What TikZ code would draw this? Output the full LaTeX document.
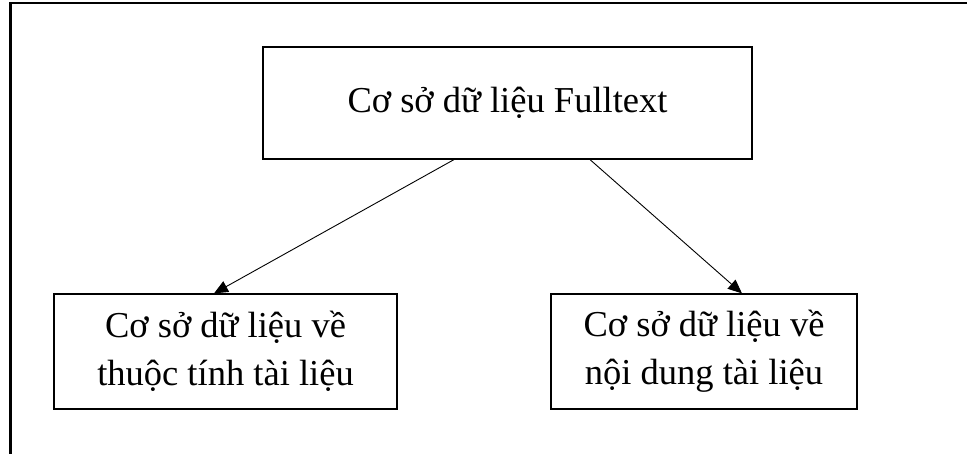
\documentclass[tikz,border=0pt]{standalone}
\usepackage{fontspec}
\setmainfont{Liberation Serif}
\usetikzlibrary{arrows.meta}

\tikzset{
  khoi/.style={draw, line width=1.2pt, align=center, inner sep=0pt,
    font=\fontsize{36.5}{48}\selectfont},
}

\begin{document}
\begin{tikzpicture}[x=1pt, y=-1pt, ->, >={Triangle[length=14pt, width=12pt]}]
      \useasboundingbox (0, 0) rectangle (967, 454);
      % khung ngoai
      \draw[line width=2.5pt, -] (10.3, 454) -- (10.3, 3) -- (967, 3);

      \node[khoi, minimum width=489pt, minimum height=112pt] (fulltext) at (507.5, 103) {Cơ sở dữ liệu Fulltext};
      \node[khoi, minimum width=343pt, minimum height=115pt] (thuoctinh) at (225.5, 351.5) {Cơ sở dữ liệu về\\thuộc tính tài liệu};
      \node[khoi, minimum width=306pt, minimum height=115pt] (noidung) at (704, 351.5) {Cơ sở dữ liệu về\\nội dung tài liệu};

      \draw[line width=0.9pt] ([xshift=-53.5pt]fulltext.south) -- ([xshift=-11.5pt]thuoctinh.north);
      \draw[line width=0.9pt] ([xshift=82.5pt]fulltext.south) -- ([xshift=38pt]noidung.north);
    \end{tikzpicture}
\end{document}
